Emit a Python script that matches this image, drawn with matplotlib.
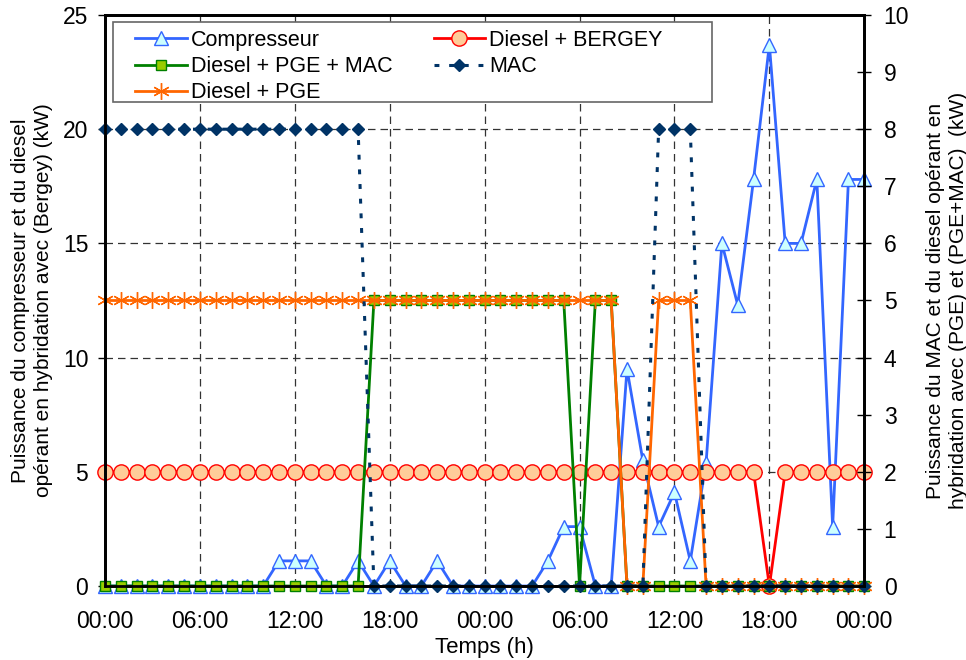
import matplotlib
matplotlib.use('Agg')
from matplotlib import pyplot as plt
from matplotlib.patches import Rectangle

plt.rcParams['font.family'] = ['Liberation Sans', 'DejaVu Sans']

# hourly time steps over two days
hours = list(range(49))
tick_pos = [0, 6, 12, 18, 24, 30, 36, 42, 48]
tick_labels = ['00:00', '06:00', '12:00', '18:00', '00:00',
               '06:00', '12:00', '18:00', '00:00']

# left axis (kW)
compresseur = [0, 0, 0, 0, 0, 0, 0, 0, 0, 0, 0,
               1.1, 1.1, 1.1, 0, 0, 1.1, 0, 1.1, 0, 0, 1.1,
               0, 0, 0, 0, 0, 0,
               1.1, 2.6, 2.6, 0, 0, 9.5, 5.5, 2.6, 4.1, 1.1, 5.4,
               15.0, 12.3, 17.8, 23.7, 15.0, 15.0, 17.8, 2.6, 17.8, 17.8]
diesel_bergey = [5, 5, 5, 5, 5, 5, 5, 5, 5, 5, 5, 5, 5, 5, 5, 5, 5, 5, 5, 5,
                 5, 5, 5, 5, 5, 5, 5, 5, 5, 5, 5, 5, 5, 5, 5, 5, 5, 5, 5, 5,
                 5, 5, 0, 5, 5, 5, 5, 5, 5]

# right axis (kW)
diesel_pge_mac = [0, 0, 0, 0, 0, 0, 0, 0, 0, 0, 0, 0, 0, 0, 0, 0, 0,
                  5, 5, 5, 5, 5, 5, 5, 5, 5, 5, 5, 5, 5, 0, 5, 5,
                  0, 0, 0, 0, 0, 0, 0, 0, 0, 0, 0, 0, 0, 0, 0, 0]
diesel_pge = [5, 5, 5, 5, 5, 5, 5, 5, 5, 5, 5, 5, 5, 5, 5, 5, 5,
              5, 5, 5, 5, 5, 5, 5, 5, 5, 5, 5, 5, 5, 5, 5, 5,
              0, 0, 5, 5, 5, 0, 0, 0, 0, 0, 0, 0, 0, 0, 0, 0]
mac = [8, 8, 8, 8, 8, 8, 8, 8, 8, 8, 8, 8, 8, 8, 8, 8, 8,
       0, 0, 0, 0, 0, 0, 0, 0, 0, 0, 0, 0, 0, 0, 0, 0, 0, 0,
       8, 8, 8, 0, 0, 0, 0, 0, 0, 0, 0, 0, 0, 0]

fig = plt.figure(figsize=(9.66, 6.6), dpi=100)
ax1 = fig.add_axes([0.1087, 0.1121, 0.7860, 0.8652])
ax2 = ax1.twinx()

l1, = ax1.plot(hours, compresseur, color='#3366ff', lw=2, marker='^', ms=10.5,
               mfc='#ccffff', mec='#3366ff', mew=1, clip_on=False,
               label='Compresseur')
l4, = ax1.plot(hours, diesel_bergey, color='#ff0000', lw=2, marker='o', ms=11,
               mfc='#ffcc99', mec='#ff0000', mew=1, clip_on=False,
               label='Diesel + BERGEY')

l2, = ax2.plot(hours, diesel_pge_mac, color='#008000', lw=2, marker='s', ms=6.5,
               mfc='#99cc00', mec='#008000', mew=1, clip_on=False,
               label='Diesel + PGE + MAC')
l3, = ax2.plot(hours, diesel_pge, color='#ff6600', lw=2, marker=(6, 2, 0),
               ms=12, mec='#ff6600', mew=1, clip_on=False,
               label='Diesel + PGE')
l5, = ax2.plot(hours, mac, color='#003366', lw=2.2, ls=(0, (1.6, 3.2)),
               marker='D', ms=6, mfc='#003366', mec='#003366', clip_on=False,
               label='MAC')

ax1.set_xlim(0, 48)
ax1.set_ylim(0, 25)
ax2.set_ylim(0, 10)
ax1.set_xticks(tick_pos)
ax1.set_xticklabels(tick_labels)
ax1.set_yticks([0, 5, 10, 15, 20, 25])
ax2.set_yticks(range(11))

ax1.grid(True, color='#333333', ls=(0, (6, 4)), lw=0.9)
ax1.set_axisbelow(True)

for ax in (ax1, ax2):
    for s in ax.spines.values():
        s.set_linewidth(2)
        s.set_color('black')
ax1.tick_params(axis='x', length=0, pad=17, labelsize=16.5)
ax1.tick_params(axis='y', direction='out', length=5, width=1, pad=7,
                labelsize=16.5)
ax2.tick_params(axis='y', direction='inout', length=10, width=1, pad=9,
                labelsize=16.5)

ax1.set_xlabel('Temps (h)', fontsize=16, labelpad=3)
ax1.set_ylabel('Puissance du compresseur et du diesel\n'
               'opérant en hybridation avec (Bergey) (kW)', fontsize=15,
               labelpad=7, linespacing=1.25)
ax2.set_ylabel('Puissance du MAC et du diesel opérant en\n'
               'hybridation avec (PGE) et (PGE+MAC)  (kW)', fontsize=15,
               labelpad=12, linespacing=1.25)

# legend box drawn separately so it spans like the original
ax2.add_patch(Rectangle((0.0105, 0.8476), 0.789, 0.1401,
                        transform=ax2.transAxes, facecolor='white',
                        edgecolor='#666666', lw=1.2, zorder=4.9,
                        clip_on=False))
leg = ax2.legend(handles=[l1, l2, l3, l4, l5], ncol=2, loc='upper left',
                 bbox_to_anchor=(0.031, 0.985), borderaxespad=0,
                 fontsize=15.5, handlelength=2.4, handletextpad=0.2,
                 labelspacing=0.24, columnspacing=1.9, borderpad=0.3,
                 frameon=False)

plt.savefig('out.png', dpi=100)
